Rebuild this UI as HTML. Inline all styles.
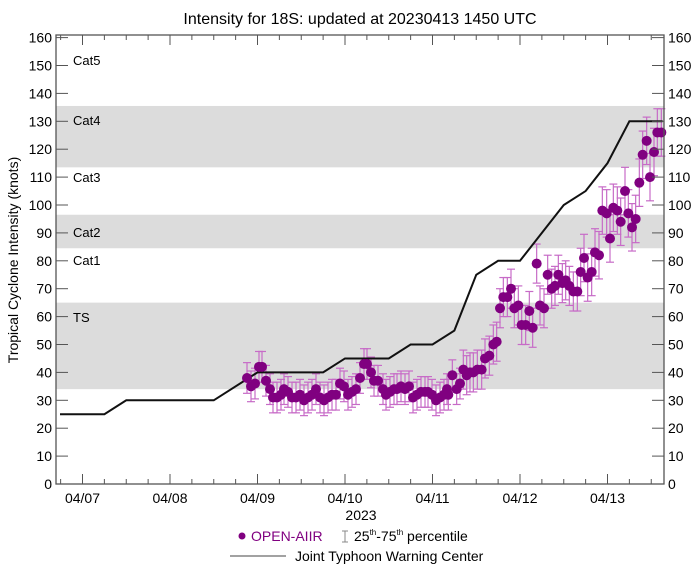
<!DOCTYPE html>
<html><head><meta charset="utf-8"><style>
body{margin:0;background:#fff}
svg{display:block;font-family:"Liberation Sans",sans-serif}
</style></head><body>
<svg id="s" width="699" height="570" xmlns="http://www.w3.org/2000/svg">
<rect width="699" height="570" fill="#fff"/>
<g id="bands"></g><g id="err"></g><g id="jt"></g><g id="pts"></g><g id="ax"></g>
<text x="360" y="24" font-size="16" text-anchor="middle">Intensity for 18S: updated at 20230413 1450 UTC</text>
<text transform="translate(18,260) rotate(-90)" font-size="14" text-anchor="middle">Tropical Cyclone Intensity (knots)</text>
<g font-size="13">
<text x="73" y="65">Cat5</text><text x="73" y="125">Cat4</text><text x="73" y="182">Cat3</text>
<text x="73" y="237">Cat2</text><text x="73" y="265">Cat1</text><text x="73" y="322">TS</text>
</g>
<g font-size="14" text-anchor="middle">
<text x="361" y="520">2023</text>
</g>
<circle cx="242" cy="536" r="3.5" fill="#800080"/>
<text x="251" y="541" font-size="14" fill="#800080">OPEN-AIIR</text>
<g stroke="#888" stroke-width="1"><line x1="345" y1="531" x2="345" y2="542"/><line x1="342" y1="531" x2="348" y2="531"/><line x1="342" y1="542" x2="348" y2="542"/></g>
<text x="354" y="541" font-size="14">25<tspan font-size="8" dy="-6">th</tspan><tspan dy="6">-75</tspan><tspan font-size="8" dy="-6">th</tspan><tspan dy="6"> percentile</tspan></text>
<line x1="230" y1="556" x2="286" y2="556" stroke="#444" stroke-width="1"/>
<text x="295" y="561" font-size="14">Joint Typhoon Warning Center</text>
</svg>
<script>
const NS="http://www.w3.org/2000/svg";
const L=56,R=664,T=35,B=484;
const Y=v=>484-2.79*v;
const DX=d=>82.5+87.5*d; // d days from 04/07 00Z
function el(p,t,a){const e=document.createElementNS(NS,t);for(const k in a)e.setAttribute(k,a[k]);document.getElementById(p).appendChild(e);return e;}
[[34,65],[84.5,96.5],[113.5,135.5]].forEach(([a,b])=>el("bands","rect",{x:L,y:Y(b),width:R-L,height:Y(a)-Y(b),fill:"#dcdcdc"}));
// JTWC
const jt=[[-0.3,25],[0.25,25],[0.5,30],[1.5,30],[2,40],[2.75,40],[3,45],[3.5,45],[3.75,50],[4,50],[4.25,55],[4.5,75],[4.75,80],[5,80],[5.25,90],[5.5,100],[5.75,105],[6,115],[6.25,130],[6.63,130]];
el("jt","polyline",{points:jt.map(p=>Math.max(L+4,DX(p[0]))+","+Y(p[1])).join(" "),fill:"none",stroke:"#111","stroke-width":2});
// data
let pts=[[247,38],[251,35],[255,36],[259,42],[262,42],[266,37],[270,34],[273,31],[277,31],[281,32],[284,34],[288,33],[292,31],[296,31],[300,32],[304,30],[308,31],[312,32],[316,34],[320,31],[324,30],[328,31],[332,32],[336,32],[340,36],[344,35],[348,32],[352,33],[356,34],[360,38],[364,43],[367,43],[371,40],[374,37],[378,37],[383,34],[386,32],[390,33],[394,34],[397,34],[401,35],[405,34],[409,35],[413,31],[417,32],[421,33],[425,33],[428,33],[432,32],[436,30],[440,31],[444,32],[447,34]];
const z=[[55,32],[78,32],[92,32],[100,34],[115,34],[125,31],[135,31],[145,32],[157,39],[170,34],[180,36],[190,41],[200,39],[210,40],[220,40],[232,41],[245,41],[255,45],[268,46],[280,50],[290,51],[300,63],[310,67],[322,67],[333,70],[343,63],[355,64],[365,57],[377,57],[388,62],[398,56],[410,79],[420,64],[432,63],[443,75],[455,70],[465,71],[475,75],[487,72],[497,73],[508,71],[520,69],[532,69],[542,76],[552,81],[563,74],[575,76],[585,83],[597,82],[607,98],[620,97],[630,88],[640,99],[652,98],[662,94],[675,105],[685,97],[696,92],[707,95],[718,108],[728,118],[740,123],[750,110],[762,119],[772,126],[784,126]];
z.forEach(([zx,v])=>{const x=400+zx/3;if(x>447.5)pts.push([x,v]);});
pts.forEach(([x,v],i)=>{const e=x>580?8.5:(x>460?7:5.5);
 const y1=Y(v+e),y2=Y(v-e);
 el("err","line",{x1:x,y1:y1,x2:x,y2:y2,stroke:"#c76bc7","stroke-width":1.2});
 el("err","line",{x1:x-4,y1:y1,x2:x+4,y2:y1,stroke:"#c76bc7","stroke-width":1.2});
 el("err","line",{x1:x-4,y1:y2,x2:x+4,y2:y2,stroke:"#c76bc7","stroke-width":1.2});
});
pts.forEach(([x,v])=>el("pts","circle",{cx:x,cy:Y(v),r:5,fill:"#800080"}));
// axes
el("ax","rect",{x:L,y:T,width:R-L,height:B-T,fill:"none",stroke:"#555","stroke-width":1.3});
for(let v=0;v<=160;v+=10){const y=Y(v);
 el("ax","line",{x1:L,y1:y,x2:L+12,y2:y,stroke:"#555"});
 el("ax","line",{x1:R-12,y1:y,x2:R,y2:y,stroke:"#555"});
 el("ax","text",{x:L-4,y:y+5,"font-size":14,"text-anchor":"end"}).textContent=v;
 el("ax","text",{x:R+4,y:y+5,"font-size":14}).textContent=v;}
for(let q=-1;q<=27;q++){const x=DX(q/4);if(x<L+1||x>R-1)continue;const len=q%4==0?10:5;
 el("ax","line",{x1:x,y1:B,x2:x,y2:B-len,stroke:"#555"});
 el("ax","line",{x1:x,y1:T,x2:x,y2:T+len,stroke:"#555"});}
["04/07","04/08","04/09","04/10","04/11","04/12","04/13"].forEach((s,i)=>el("ax","text",{x:DX(i),y:503,"font-size":14,"text-anchor":"middle"}).textContent=s);
</script>
</body></html>
